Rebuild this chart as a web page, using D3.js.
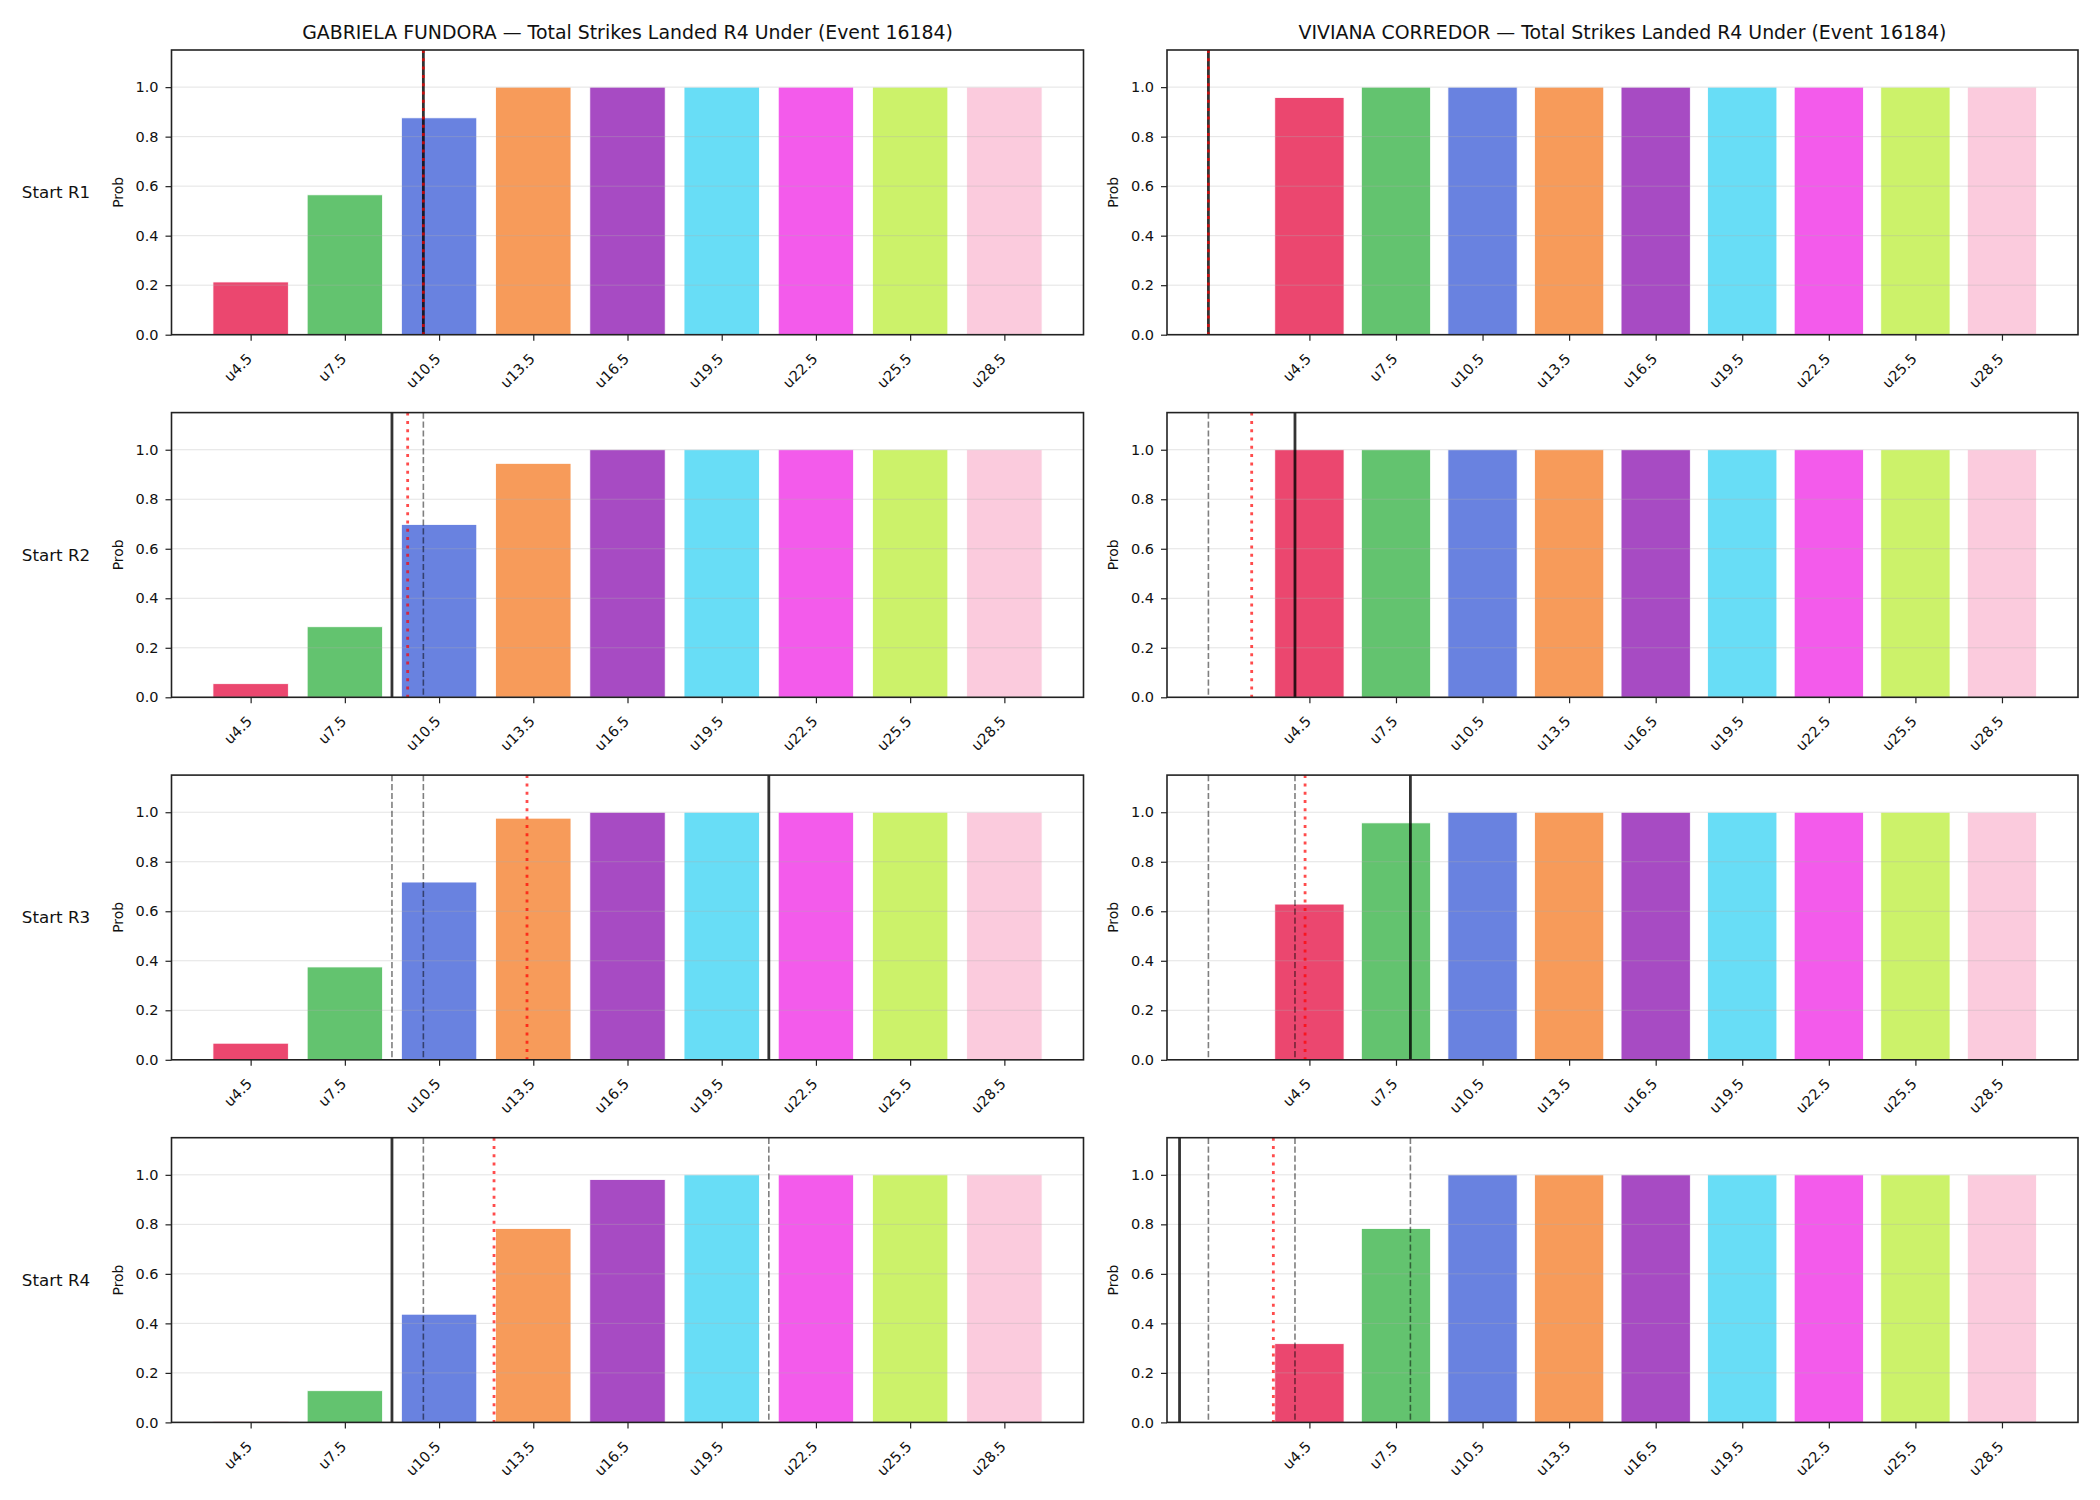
<!DOCTYPE html>
<html>
<head>
<meta charset="utf-8">
<script src="https://cdn.jsdelivr.net/npm/d3@7"></script>
<style>
  body { margin: 0; background: #fff; }
  text { font-family: "DejaVu Sans", sans-serif; fill: #111; }
</style>
</head>
<body>
<svg id="chart" width="2100" height="1500"></svg>
<script>
// ---------------- data ----------------
const categories = ["u4.5", "u7.5", "u10.5", "u13.5", "u16.5", "u19.5", "u22.5", "u25.5", "u28.5"];
const lineThresholds = [4.5, 7.5, 10.5, 13.5, 16.5, 19.5, 22.5, 25.5, 28.5];
const fighterNames = ["GABRIELA FUNDORA", "VIVIANA CORREDOR"];
const chartSubtitle = "Total Strikes Landed R4 Under (Event 16184)";
const roundLabels = ["Start R1", "Start R2", "Start R3", "Start R4"];
const yTicks = [0, 0.2, 0.4, 0.6, 0.8, 1.0];
const barColors = ["#e6194B", "#3cb44b", "#4363d8", "#f58231", "#911eb4", "#42d4f4", "#f032e6", "#bfef45", "#fabed4"];

// probabilities per round start (rows) per threshold (columns)
const fundoraProbs = [
  [0.213, 0.565, 0.876, 1.0, 1.0, 1.0, 1.0, 1.0, 1.0],
  [0.055, 0.285, 0.698, 0.945, 1.0, 1.0, 1.0, 1.0, 1.0],
  [0.067, 0.375, 0.718, 0.976, 1.0, 1.0, 1.0, 1.0, 1.0],
  [0.004, 0.128, 0.437, 0.783, 0.981, 1.0, 1.0, 1.0, 1.0]
];
const corredorProbs = [
  [0.958, 1.0, 1.0, 1.0, 1.0, 1.0, 1.0, 1.0, 1.0],
  [1.0, 1.0, 1.0, 1.0, 1.0, 1.0, 1.0, 1.0, 1.0],
  [0.629, 0.957, 1.0, 1.0, 1.0, 1.0, 1.0, 1.0, 1.0],
  [0.318, 0.783, 1.0, 1.0, 1.0, 1.0, 1.0, 1.0, 1.0]
];
// marker lines (in strikes): solid black, red dotted, gray dashed
const fundoraCurrent = [10, 9, 21, 9];
const fundoraProjected = [10, 9.5, 13.3, 12.25];
const fundoraPrevious = [[], [10], [9, 10], [10, 21]];
const corredorCurrent = [1, 4, 8, 0];
const corredorProjected = [1, 2.5, 4.35, 3.25];
const corredorPrevious = [[], [1], [1, 4], [1, 4, 8]];

// ---------------- layout ----------------
const colLeft = [171.5, 1167];
const colWidth = [912, 911];
const rowTop = [50, 412.6, 775.1, 1137.7];
const rowH = 284.7;
const tickFont = 14.5;

const svg = d3.select("#chart");
svg.append("rect").attr("width", 2100).attr("height", 1500).attr("fill", "#fff");

const panels = [
  { name: fighterNames[0], probs: fundoraProbs, cur: fundoraCurrent, proj: fundoraProjected, prev: fundoraPrevious },
  { name: fighterNames[1], probs: corredorProbs, cur: corredorCurrent, proj: corredorProjected, prev: corredorPrevious }
];

const toPos = d3.scaleLinear()
  .domain([lineThresholds[0], lineThresholds[lineThresholds.length - 1]])
  .range([0, lineThresholds.length - 1]);

panels.forEach((p, c) => {
  const refVals = p.proj.concat(p.prev.flat());
  const lo = Math.min(-0.4, d3.min(refVals, v => toPos(v)));
  const hi = categories.length - 1 + 0.4;
  const m = 0.05 * (hi - lo);
  const left = colLeft[c], right = colLeft[c] + colWidth[c];
  const x = d3.scaleLinear().domain([lo - m, hi + m]).range([left, right]);

  roundLabels.forEach((rl, r) => {
    const top = rowTop[r], bottom = top + rowH;
    const y = d3.scaleLinear().domain([0, 1.15]).range([bottom, top]);
    const g = svg.append("g");

    // bars
    g.selectAll("rect.bar").data(p.probs[r]).enter().append("rect")
      .attr("class", "bar")
      .attr("x", (d, i) => x(i - 0.4))
      .attr("width", (d, i) => x(i + 0.4) - x(i - 0.4))
      .attr("y", d => y(d))
      .attr("height", d => y(0) - y(d))
      .attr("fill", (d, i) => barColors[i])
      .attr("fill-opacity", 0.8)
      .attr("stroke", "#fff")
      .attr("stroke-width", 0.8);

    // grid
    g.selectAll("line.grid").data(yTicks).enter().append("line")
      .attr("x1", left).attr("x2", right)
      .attr("y1", d => y(d)).attr("y2", d => y(d))
      .attr("stroke", "#b0b0b0").attr("stroke-opacity", 0.35).attr("stroke-width", 1);

    // vertical marker lines
    g.selectAll("line.prev").data(p.prev[r]).enter().append("line")
      .attr("x1", d => x(toPos(d))).attr("x2", d => x(toPos(d)))
      .attr("y1", top).attr("y2", bottom)
      .attr("stroke", "#000").attr("stroke-opacity", 0.5)
      .attr("stroke-width", 1.6).attr("stroke-dasharray", "6.2,2.7");
    g.append("line")
      .attr("x1", x(toPos(p.cur[r]))).attr("x2", x(toPos(p.cur[r])))
      .attr("y1", top).attr("y2", bottom)
      .attr("stroke", "#000").attr("stroke-opacity", 0.8).attr("stroke-width", 2.8);
    g.append("line")
      .attr("x1", x(toPos(p.proj[r]))).attr("x2", x(toPos(p.proj[r])))
      .attr("y1", top).attr("y2", bottom)
      .attr("stroke", "red").attr("stroke-opacity", 0.7)
      .attr("stroke-width", 2.8).attr("stroke-dasharray", "3,5.3");

    // frame
    g.append("rect").attr("x", left).attr("y", top).attr("width", right - left).attr("height", rowH)
      .attr("fill", "none").attr("stroke", "#222").attr("stroke-width", 1.6);

    // y axis
    const ya = g.append("g").attr("transform", `translate(${left},0)`)
      .call(d3.axisLeft(y).tickValues(yTicks).tickFormat(d3.format(".1f")).tickSize(6).tickPadding(7));
    ya.select(".domain").remove();
    ya.selectAll(".tick line").attr("stroke", "#222").attr("stroke-width", 1.2);
    ya.selectAll(".tick text").attr("font-size", tickFont).attr("font-family", "DejaVu Sans").attr("fill", "#111");

    // x axis
    const xa = g.append("g").attr("transform", `translate(0,${bottom})`)
      .call(d3.axisBottom(x).tickValues(d3.range(categories.length)).tickFormat(i => categories[i]).tickSize(6));
    xa.select(".domain").remove();
    xa.selectAll(".tick line").attr("stroke", "#222").attr("stroke-width", 1.2);
    xa.selectAll(".tick text")
      .attr("font-size", tickFont).attr("font-family", "DejaVu Sans").attr("fill", "#111")
      .attr("x", 0).attr("y", 0).attr("dy", null)
      .attr("text-anchor", "end")
      .attr("transform", "translate(2,25) rotate(-45)");

    // y label
    g.append("text")
      .attr("transform", `translate(${left - 54},${(top + bottom) / 2}) rotate(-90)`)
      .attr("text-anchor", "middle").attr("dominant-baseline", "central")
      .attr("font-size", 13.9).text("Prob");

    // row label
    if (c === 0) {
      g.append("text")
        .attr("x", 56).attr("y", (top + bottom) / 2)
        .attr("text-anchor", "middle").attr("dominant-baseline", "central")
        .attr("font-size", 16.7).text(rl);
    }
    // title
    if (r === 0) {
      g.append("text")
        .attr("x", (left + right) / 2).attr("y", top - 11.5)
        .attr("text-anchor", "middle")
        .attr("font-size", 18.9).text(`${p.name} \u2014 ${chartSubtitle}`);
    }
  });
});
</script>
</body>
</html>
